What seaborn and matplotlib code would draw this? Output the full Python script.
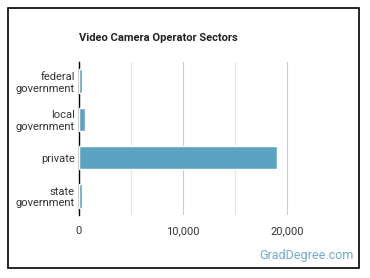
import matplotlib
matplotlib.use("Agg")
import matplotlib.pyplot as plt
import seaborn as sns
import pandas as pd
from matplotlib.ticker import MultipleLocator, FuncFormatter
from matplotlib.patches import Rectangle

categories = ["federal\ngovernment", "local\ngovernment", "private", "state\ngovernment"]
values = [320, 610, 19050, 300]
xticks = [0, 10000, 20000]
title = "Video Camera Operator Sectors"
watermark = "GradDegree.com"

sns.set_theme(style="white")
plt.rcParams['font.family'] = ['Roboto', 'DejaVu Sans']

df = pd.DataFrame({"sector": categories, "count": values})

fig = plt.figure(figsize=(3.7, 2.78), dpi=100)
ax = fig.add_axes([79/370, 1-215/278, (339-79)/370, (215-62)/278])

sns.barplot(data=df, y="sector", x="count", orient="h", color="#5BA3C3",
            saturation=1, width=0.62, ax=ax, zorder=3)

ax.set_xlim(0, 25000)
ax.set_xticks(xticks)
ax.xaxis.set_minor_locator(MultipleLocator(5000))
ax.xaxis.set_major_formatter(FuncFormatter(lambda v, p: f"{int(v):,}"))
ax.grid(axis="x", which="major", color="#cccccc", linewidth=0.8, zorder=0)
ax.grid(axis="x", which="minor", color="#e3e3e3", linewidth=0.8, zorder=0)
ax.set_axisbelow(True)
for s in ["top", "right", "bottom"]:
    ax.spines[s].set_visible(False)
ax.spines["left"].set_color("black")
ax.spines["left"].set_linewidth(1.0)
ax.set_xlabel("")
ax.set_ylabel("")
ax.tick_params(axis="both", which="both", length=0, labelsize=8, labelcolor="#333333")
ax.tick_params(axis="x", pad=8)
ax.tick_params(axis="y", pad=3)

fig.text(79/370, 1-38/278, title, fontsize=8, fontweight="bold", color="#222222",
         ha="left", va="center")
fig.text(354/370, 1-255/278, watermark, fontsize=9, color="#72aacb",
         ha="right", va="center")

fig.patches.append(Rectangle((7.5/370, 1-267.5/278), (359-7.5)/370, (267.5-7.5)/278,
                             transform=fig.transFigure, fill=False,
                             edgecolor="black", linewidth=1.2))

fig.canvas.draw()
for tick in ax.yaxis.get_major_ticks():
    tick.label1.set_multialignment("right")
    tick.label1.set_horizontalalignment("right")

fig.savefig("out.png", dpi=100)
